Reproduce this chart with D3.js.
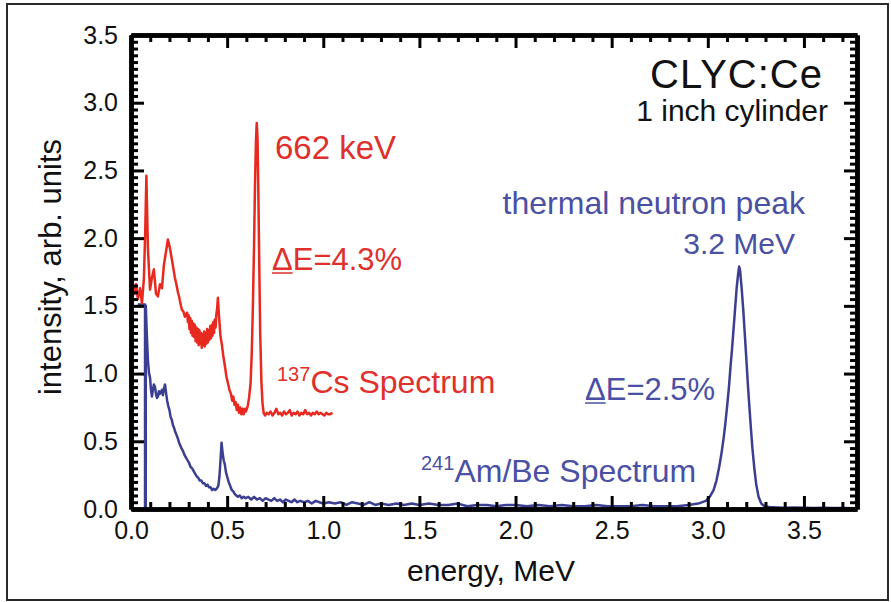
<!DOCTYPE html>
<html>
<head>
<meta charset="utf-8">
<script src="https://cdn.jsdelivr.net/npm/d3@7"></script>
<style>
  html, body { margin: 0; padding: 0; background: #fff; }
  svg text { font-family: "Liberation Sans", Arial, Helvetica, sans-serif; }
</style>
</head>
<body>
<svg id="chart" width="891" height="602"></svg>
<script>
// 137Cs spectrum: [energy (MeV), intensity (arb. units)]
const csSpectrum = [
  [0.016, 1.58], [0.026, 1.66], [0.036, 1.55], [0.047, 1.63], [0.057, 1.52],
  [0.067, 1.70], [0.074, 2.05], [0.080, 2.46], [0.088, 1.92], [0.099, 1.62],
  [0.109, 1.71], [0.119, 1.77], [0.130, 1.59], [0.140, 1.57], [0.151, 1.66],
  [0.161, 1.63], [0.171, 1.80], [0.182, 1.90], [0.192, 1.99], [0.202, 1.93],
  [0.213, 1.84], [0.228, 1.71], [0.236, 1.66], [0.244, 1.60], [0.250, 1.57],
  [0.254, 1.54], [0.260, 1.50], [0.265, 1.47], [0.272, 1.46], [0.280, 1.42],
  [0.286, 1.44], [0.292, 1.45], [0.296, 1.38], [0.300, 1.43], [0.304, 1.33],
  [0.308, 1.41], [0.312, 1.30], [0.316, 1.39], [0.320, 1.28], [0.324, 1.37],
  [0.328, 1.27], [0.332, 1.36], [0.336, 1.24], [0.340, 1.34], [0.344, 1.23],
  [0.348, 1.33], [0.352, 1.21], [0.356, 1.32], [0.360, 1.22], [0.364, 1.30],
  [0.368, 1.19], [0.372, 1.29], [0.376, 1.21], [0.380, 1.31], [0.384, 1.20],
  [0.388, 1.30], [0.392, 1.22], [0.396, 1.33], [0.400, 1.23], [0.404, 1.32],
  [0.408, 1.25], [0.412, 1.35], [0.416, 1.26], [0.420, 1.36], [0.424, 1.28],
  [0.428, 1.38], [0.432, 1.30], [0.436, 1.40], [0.440, 1.34], [0.444, 1.44],
  [0.448, 1.48], [0.452, 1.56], [0.458, 1.42], [0.465, 1.28], [0.472, 1.22],
  [0.480, 1.13], [0.488, 1.06], [0.496, 0.98], [0.504, 0.93], [0.512, 0.88],
  [0.520, 0.85], [0.526, 0.80], [0.532, 0.83], [0.538, 0.77], [0.544, 0.79],
  [0.550, 0.73], [0.556, 0.77], [0.562, 0.71], [0.568, 0.75], [0.574, 0.70],
  [0.580, 0.74], [0.586, 0.70], [0.592, 0.74], [0.598, 0.72], [0.607, 0.76],
  [0.614, 0.82], [0.622, 0.93], [0.628, 1.15], [0.634, 1.50], [0.640, 1.95],
  [0.645, 2.40], [0.650, 2.72], [0.654, 2.85], [0.658, 2.74], [0.662, 2.38],
  [0.667, 1.82], [0.672, 1.30], [0.678, 0.95], [0.684, 0.78], [0.690, 0.71],
  [0.697, 0.69], [0.706, 0.71], [0.716, 0.70], [0.726, 0.72], [0.736, 0.69],
  [0.746, 0.71], [0.756, 0.74], [0.766, 0.70], [0.776, 0.71], [0.786, 0.69],
  [0.796, 0.72], [0.806, 0.70], [0.816, 0.71], [0.826, 0.73], [0.836, 0.69],
  [0.846, 0.71], [0.856, 0.70], [0.866, 0.72], [0.876, 0.69], [0.886, 0.71],
  [0.896, 0.70], [0.906, 0.73], [0.916, 0.70], [0.926, 0.71], [0.936, 0.69],
  [0.946, 0.71], [0.956, 0.70], [0.966, 0.72], [0.976, 0.70], [0.986, 0.71],
  [0.996, 0.70], [1.006, 0.69], [1.016, 0.71], [1.026, 0.70], [1.036, 0.70],
  [1.048, 0.71]
];

// 241Am/Be spectrum: [energy (MeV), intensity (arb. units)]
const ambeSpectrum = [
  [0.035, 1.51], [0.073, 1.51], [0.073, 0.00], [0.077, 0.00], [0.077, 1.50],
  [0.082, 1.30], [0.088, 1.10], [0.094, 1.00], [0.099, 0.97], [0.104, 0.88],
  [0.109, 0.83], [0.114, 0.88], [0.119, 0.92], [0.125, 0.90], [0.130, 0.85],
  [0.135, 0.82], [0.140, 0.83], [0.145, 0.87], [0.150, 0.85], [0.155, 0.86],
  [0.161, 0.88], [0.166, 0.84], [0.171, 0.89], [0.177, 0.92], [0.183, 0.85],
  [0.188, 0.80], [0.194, 0.76], [0.200, 0.73], [0.206, 0.68], [0.212, 0.66],
  [0.218, 0.62], [0.224, 0.60], [0.230, 0.57], [0.236, 0.55], [0.244, 0.52],
  [0.250, 0.49], [0.256, 0.47], [0.262, 0.45], [0.270, 0.43], [0.278, 0.40],
  [0.286, 0.38], [0.294, 0.36], [0.302, 0.34], [0.310, 0.31], [0.318, 0.30],
  [0.326, 0.28], [0.334, 0.26], [0.342, 0.24], [0.350, 0.23], [0.358, 0.21],
  [0.366, 0.21], [0.374, 0.19], [0.382, 0.19], [0.390, 0.17], [0.398, 0.18],
  [0.406, 0.16], [0.414, 0.16], [0.422, 0.14], [0.430, 0.15], [0.438, 0.14],
  [0.446, 0.15], [0.454, 0.17], [0.460, 0.24], [0.466, 0.37], [0.471, 0.49],
  [0.476, 0.42], [0.482, 0.36], [0.488, 0.33], [0.494, 0.27], [0.500, 0.24],
  [0.508, 0.20], [0.516, 0.17], [0.524, 0.14], [0.532, 0.13], [0.540, 0.11],
  [0.548, 0.10], [0.556, 0.09], [0.566, 0.10], [0.576, 0.08], [0.586, 0.09],
  [0.596, 0.08], [0.610, 0.09], [0.625, 0.07], [0.640, 0.09], [0.655, 0.07],
  [0.670, 0.08], [0.685, 0.06], [0.700, 0.08], [0.715, 0.07], [0.730, 0.06],
  [0.745, 0.08], [0.760, 0.06], [0.775, 0.07], [0.790, 0.05], [0.805, 0.07],
  [0.820, 0.06], [0.835, 0.05], [0.850, 0.07], [0.865, 0.05], [0.880, 0.06],
  [0.900, 0.05], [0.920, 0.06], [0.940, 0.04], [0.960, 0.06], [0.980, 0.05],
  [1.000, 0.04], [1.030, 0.05], [1.060, 0.04], [1.090, 0.05], [1.120, 0.03],
  [1.150, 0.05], [1.180, 0.04], [1.210, 0.03], [1.240, 0.05], [1.270, 0.03],
  [1.300, 0.04], [1.340, 0.03], [1.380, 0.04], [1.420, 0.03], [1.460, 0.04],
  [1.500, 0.03], [1.550, 0.04], [1.600, 0.03], [1.650, 0.03], [1.700, 0.04],
  [1.750, 0.02], [1.800, 0.03], [1.850, 0.03], [1.900, 0.02], [1.950, 0.03],
  [2.000, 0.03], [2.060, 0.02], [2.120, 0.03], [2.180, 0.02], [2.240, 0.03],
  [2.300, 0.02], [2.360, 0.02], [2.420, 0.03], [2.480, 0.02], [2.540, 0.02],
  [2.600, 0.02], [2.660, 0.03], [2.720, 0.02], [2.780, 0.02], [2.840, 0.02],
  [2.900, 0.03], [2.950, 0.04], [2.990, 0.06], [3.010, 0.09], [3.030, 0.14],
  [3.045, 0.21], [3.058, 0.30], [3.070, 0.40], [3.082, 0.52], [3.092, 0.64],
  [3.102, 0.78], [3.110, 0.90], [3.118, 1.05], [3.126, 1.18], [3.134, 1.33],
  [3.142, 1.48], [3.150, 1.63], [3.158, 1.74], [3.163, 1.79], [3.168, 1.76],
  [3.176, 1.63], [3.184, 1.48], [3.192, 1.30], [3.200, 1.12], [3.208, 0.93],
  [3.216, 0.76], [3.224, 0.60], [3.232, 0.45], [3.242, 0.30], [3.252, 0.18],
  [3.264, 0.09], [3.278, 0.04], [3.295, 0.02], [3.320, 0.015], [3.360, 0.012],
  [3.400, 0.010], [3.450, 0.012], [3.500, 0.010], [3.550, 0.008], [3.600, 0.010],
  [3.650, 0.008], [3.700, 0.008], [3.776, 0.006]
];

// Axis ticks
const xMajorTicks = [0.0, 0.5, 1.0, 1.5, 2.0, 2.5, 3.0, 3.5];
const yMajorTicks = [0.0, 0.5, 1.0, 1.5, 2.0, 2.5, 3.0, 3.5];
const xMinorStep = 0.1;
const yMinorStep = 0.05;
const xDomain = [0, 3.776];
const yDomain = [0, 3.5];

const svg = d3.select("#chart");
const plot = { left: 131, top: 35, right: 857, bottom: 509 };

const RED = "#e8291f";
const RED_TEXT = "#e0302c";
const BLUE = "#3b3f92";
const BLUE_TEXT = "#4a50a4";

// outer frame
svg.append("rect")
  .attr("x", 7).attr("y", 4)
  .attr("width", 881).attr("height", 596)
  .attr("fill", "#fff")
  .attr("stroke", "#2a2a2a")
  .attr("stroke-width", 2);

const x = d3.scaleLinear().domain(xDomain).range([plot.left, plot.right]);
const y = d3.scaleLinear().domain(yDomain).range([plot.bottom, plot.top]);

const line = d3.line().x(d => x(d[0])).y(d => y(d[1]));

svg.append("clipPath").attr("id", "plotclip")
  .append("rect")
  .attr("x", plot.left).attr("y", plot.top - 2)
  .attr("width", plot.right - plot.left).attr("height", plot.bottom - plot.top + 2);

const series = svg.append("g").attr("clip-path", "url(#plotclip)");
series.append("path").datum(ambeSpectrum)
  .attr("d", line).attr("fill", "none")
  .attr("stroke", BLUE).attr("stroke-width", 2.5)
  .attr("stroke-linejoin", "round");
series.append("path").datum(csSpectrum)
  .attr("d", line).attr("fill", "none")
  .attr("stroke", RED).attr("stroke-width", 2.5)
  .attr("stroke-linejoin", "round");

// minor tick values (skip the majors)
function minorValues(domain, step, majors) {
  const out = [];
  const n = Math.floor((domain[1] - domain[0]) / step + 1e-9);
  for (let i = 0; i <= n; i++) {
    const v = +(domain[0] + i * step).toFixed(4);
    if (!majors.some(m => Math.abs(m - v) < 1e-6)) out.push(v);
  }
  return out;
}
const xMinor = minorValues(xDomain, xMinorStep, xMajorTicks);
const yMinor = minorValues(yDomain, yMinorStep, yMajorTicks);

const MAJ = 13, MIN = 7;
const fmt = d3.format(".1f");

function styleAxis(g) {
  g.select(".domain").attr("stroke", "#000").attr("stroke-width", 4.5);
  g.selectAll(".tick line").attr("stroke", "#000").attr("stroke-width", 3);
  g.selectAll(".tick text")
    .attr("fill", "#111")
    .style("font-size", "25px")
    .style("font-family", '"Liberation Sans", Arial, sans-serif');
}

// minor ticks on all four sides, pointing inward
svg.append("g").attr("transform", `translate(0,${plot.bottom})`)
  .call(d3.axisBottom(x).tickValues(xMinor).tickSize(-MIN).tickFormat("").tickSizeOuter(0))
  .call(styleAxis);
svg.append("g").attr("transform", `translate(0,${plot.top})`)
  .call(d3.axisTop(x).tickValues(xMinor).tickSize(-MIN).tickFormat("").tickSizeOuter(0))
  .call(styleAxis);
svg.append("g").attr("transform", `translate(${plot.left},0)`)
  .call(d3.axisLeft(y).tickValues(yMinor).tickSize(-MIN).tickFormat("").tickSizeOuter(0))
  .call(styleAxis);
svg.append("g").attr("transform", `translate(${plot.right},0)`)
  .call(d3.axisRight(y).tickValues(yMinor).tickSize(-MIN).tickFormat("").tickSizeOuter(0))
  .call(styleAxis);

// major ticks with labels
svg.append("g").attr("transform", `translate(0,${plot.bottom})`)
  .call(d3.axisBottom(x).tickValues(xMajorTicks).tickSize(-MAJ).tickPadding(12).tickFormat(fmt).tickSizeOuter(0))
  .call(styleAxis);
svg.append("g").attr("transform", `translate(0,${plot.top})`)
  .call(d3.axisTop(x).tickValues(xMajorTicks).tickSize(-MAJ).tickFormat("").tickSizeOuter(0))
  .call(styleAxis);
svg.append("g").attr("transform", `translate(${plot.left},0)`)
  .call(d3.axisLeft(y).tickValues(yMajorTicks).tickSize(-MAJ).tickPadding(13).tickFormat(fmt).tickSizeOuter(0))
  .call(styleAxis);
svg.append("g").attr("transform", `translate(${plot.right},0)`)
  .call(d3.axisRight(y).tickValues(yMajorTicks).tickSize(-MAJ).tickFormat("").tickSizeOuter(0))
  .call(styleAxis);

// axis titles
svg.append("text")
  .attr("x", (plot.left + plot.right) / 2 - 3).attr("y", 581)
  .attr("text-anchor", "middle")
  .style("font-size", "30px").attr("fill", "#111")
  .text("energy, MeV");
svg.append("text")
  .attr("transform", `translate(61,${(plot.top + plot.bottom) / 2 - 5}) rotate(-90)`)
  .attr("text-anchor", "middle")
  .style("font-size", "31px").attr("fill", "#111")
  .text("intensity, arb. units");

// sample labels
svg.append("text")
  .attr("x", 823).attr("y", 88).attr("text-anchor", "end")
  .style("font-size", "40px").style("letter-spacing", "1px").attr("fill", "#111")
  .text("CLYC:Ce");
svg.append("text")
  .attr("x", 828).attr("y", 121).attr("text-anchor", "end")
  .style("font-size", "30px").attr("fill", "#111")
  .text("1 inch cylinder");

// label whose leading Δ is underlined
function deltaLabel(xp, yp, str, color, size) {
  const t = svg.append("text").attr("x", xp).attr("y", yp)
    .style("font-size", size + "px").attr("fill", color).text(str);
  const w = t.node().getSubStringLength(0, 1);
  svg.append("line")
    .attr("x1", xp).attr("x2", xp + w)
    .attr("y1", yp + 3).attr("y2", yp + 3)
    .attr("stroke", color).attr("stroke-width", 1.5);
  return t;
}

// 137Cs annotations
svg.append("text")
  .attr("x", 275).attr("y", 159)
  .style("font-size", "33px").attr("fill", RED_TEXT)
  .text("662 keV");
deltaLabel(272, 270, "ΔE=4.3%", RED_TEXT, 31);
const csLab = svg.append("text")
  .attr("x", 277).attr("y", 393)
  .style("font-size", "32px").attr("fill", RED_TEXT);
csLab.append("tspan").style("font-size", "20px").attr("dy", -12).text("137");
csLab.append("tspan").attr("dy", 12).text("Cs Spectrum");

// Am/Be annotations
svg.append("text")
  .attr("x", 805).attr("y", 214).attr("text-anchor", "end")
  .style("font-size", "32px").attr("fill", BLUE_TEXT)
  .text("thermal neutron peak");
svg.append("text")
  .attr("x", 795).attr("y", 254).attr("text-anchor", "end")
  .style("font-size", "30px").attr("fill", BLUE_TEXT)
  .text("3.2 MeV");
deltaLabel(585, 400, "ΔE=2.5%", BLUE_TEXT, 31);
const abLab = svg.append("text")
  .attr("x", 421).attr("y", 482)
  .style("font-size", "32px").attr("fill", BLUE_TEXT);
abLab.append("tspan").style("font-size", "20px").attr("dy", -12).text("241");
abLab.append("tspan").attr("dy", 12).text("Am/Be Spectrum");
</script>
</body>
</html>
